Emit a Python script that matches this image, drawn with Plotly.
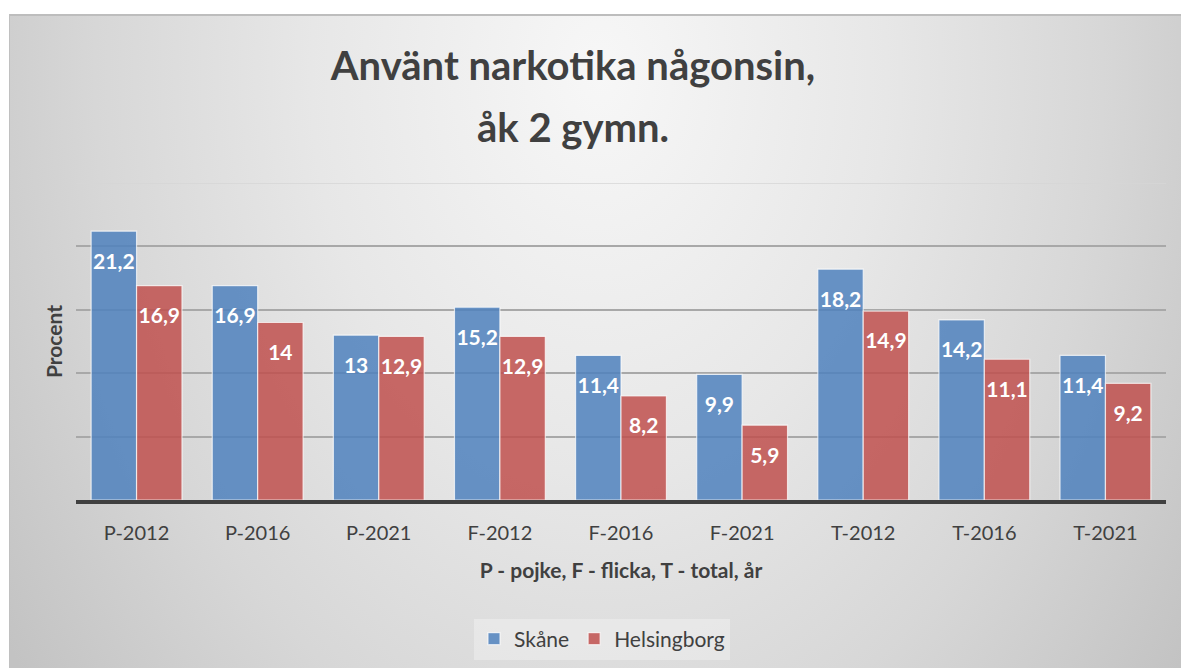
import plotly.graph_objects as go
import urllib.parse

categories = ["P-2012", "P-2016", "P-2021", "F-2012", "F-2016", "F-2021", "T-2012", "T-2016", "T-2021"]
skane = [21.2, 16.9, 13.0, 15.2, 11.4, 9.9, 18.2, 14.2, 11.4]
helsingborg = [16.9, 14.0, 12.9, 12.9, 8.2, 5.9, 14.9, 11.1, 9.2]
series_names = ["Skåne", "Helsingborg"]
title_lines = ["Använt narkotika någonsin,", "åk 2 gymn."]

def fmt(v):
    s = ("%.1f" % v).rstrip("0").rstrip(".")
    return s.replace(".", ",")

W, H = 1181, 668
L, R, T, B = 76, 15, 183, 168
pw, ph = W - L - R, H - T - B

FONT = "Lato, 'Open Sans', sans-serif"
TXT = "#404040"

svg = (
    "<svg xmlns='http://www.w3.org/2000/svg' width='1172' height='654' preserveAspectRatio='none'>"
    "<defs><radialGradient id='g' gradientUnits='userSpaceOnUse' cx='0' cy='0' r='1' "
    "gradientTransform='translate(590 60) scale(720 1000)'>"
    "<stop offset='0' stop-color='#f7f7f7'/>"
    "<stop offset='0.4' stop-color='#e7e7e7'/>"
    "<stop offset='0.7' stop-color='#d7d7d7'/>"
    "<stop offset='1' stop-color='#c3c3c3'/>"
    "</radialGradient></defs>"
    "<rect x='0' y='0' width='1172' height='654' fill='url(#g)'/>"
    "<line x1='0' y1='1' x2='1172' y2='1' stroke='#bdbdbd' stroke-width='2'/>"
    "<line x1='0.5' y1='0' x2='0.5' y2='654' stroke='#c0c0c0' stroke-width='1'/>"
    "</svg>"
)
src = "data:image/svg+xml;charset=utf-8," + urllib.parse.quote(svg)

fig = go.Figure()
colors = ["rgba(79,129,189,0.85)", "rgba(192,80,77,0.85)"]
for name, vals, col, grp in [(series_names[0], skane, colors[0], "a"), (series_names[1], helsingborg, colors[1], "b")]:
    fig.add_trace(go.Bar(
        x=categories, y=vals, name=name, offsetgroup=grp,
        marker=dict(color=col, line=dict(color="rgba(255,255,255,0.7)", width=1.2)),
        hoverinfo="x+y+name",
    ))
for name, vals, grp in [(series_names[0], skane, "a"), (series_names[1], helsingborg, "b")]:
    fig.add_trace(go.Scatter(
        x=categories, y=vals, mode="markers+text", offsetgroup=grp,
        text=[fmt(v) for v in vals], textposition="bottom center",
        textfont=dict(family=FONT, size=21, color="white", weight="bold"),
        marker=dict(size=33, opacity=0), showlegend=False, hoverinfo="skip",
    ))

fig.update_layout(
    width=W, height=H,
    margin=dict(l=L, r=R, t=T, b=B, autoexpand=False),
    paper_bgcolor="white", plot_bgcolor="rgba(0,0,0,0)",
    barmode="group", bargap=0.25, bargroupgap=0,
    scattermode="group", scattergap=0.25,
    font=dict(family=FONT, color=TXT),
    title=dict(
        text="<b>" + title_lines[0] + "</b>",
        font=dict(family=FONT, size=40, color=TXT),
        x=573 / W, xanchor="center", xref="container",
        y=1 - 80 / H, yanchor="bottom", yref="container",
    ),
    annotations=[dict(
        text="<b>" + title_lines[1] + "</b>", showarrow=False,
        font=dict(family=FONT, size=40, color=TXT),
        xref="paper", yref="paper",
        x=(573 - L) / pw, xanchor="center",
        y=(H - B - 127) / ph, yanchor="middle",
    )],
    images=[dict(
        source=src, xref="paper", yref="paper",
        x=(9 - L) / pw, y=(H - B - 14) / ph,
        sizex=(W - 9) / pw, sizey=(H - 14) / ph,
        xanchor="left", yanchor="top", sizing="stretch", layer="below",
    )],
    legend=dict(
        orientation="h", x=(602 - L) / pw, xanchor="center",
        y=(H - B - 639) / ph, yanchor="middle",
        bgcolor="rgba(255,255,255,0.3)",
        font=dict(family=FONT, size=21, color=TXT),
        itemwidth=30,
    ),
    showlegend=True,
    shapes=[dict(type="line", xref="paper", yref="y", x0=0, x1=1, y0=25, y1=25,
                 line=dict(color="#d6d6d6", width=1.5), layer="below")],
)
fig.update_xaxes(
    showline=True, linecolor="#404040", linewidth=3.5, automargin=False,
    showgrid=False, ticks="outside", ticklen=12, tickcolor="rgba(0,0,0,0)",
    tickfont=dict(family=FONT, size=20, color=TXT),
    title=dict(text="<b>P - pojke, F - flicka, T - total, år</b>",
               font=dict(family=FONT, size=21, color=TXT), standoff=22),
)
fig.update_yaxes(
    range=[0, 25], tickvals=[5, 10, 15, 20], showticklabels=False, automargin=False,
    showgrid=True, gridcolor="#a8a8a8", gridwidth=1.5, zeroline=False,
    title=dict(text="<b>Procent</b>", font=dict(family=FONT, size=21, color=TXT), standoff=6),
)
fig.write_html("out.html", config={"displayModeBar": False},
               post_script="document.body.style.margin='0';")
